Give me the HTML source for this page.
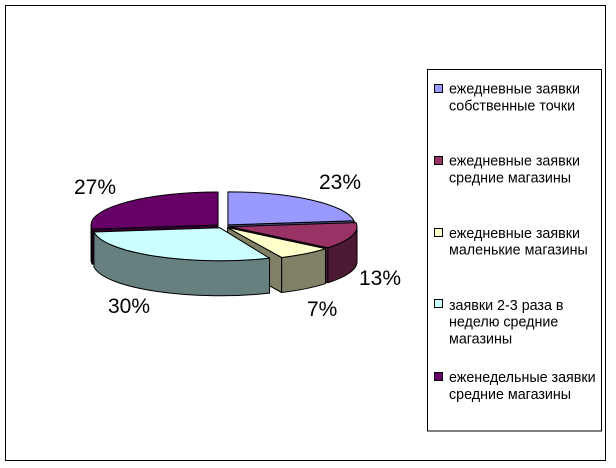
<!DOCTYPE html>
<html>
<head>
<meta charset="utf-8">
<style>
html,body{margin:0;padding:0;background:#fff;}
svg{display:block;}
text{font-family:"Liberation Sans","DejaVu Sans",sans-serif;fill:#000;}
</style>
</head>
<body>
<svg width="616" height="468" viewBox="0 0 616 468" xmlns="http://www.w3.org/2000/svg">
<rect x="0" y="0" width="616" height="468" fill="#fff"/>
<rect x="5.5" y="5.5" width="600" height="455" fill="none" stroke="#000" stroke-width="1"/>

<g stroke="#000" stroke-width="1" stroke-linejoin="round">
  <!-- Purple 27% -->
  <path d="M218.05,225 L92.05,229.14 L92.05,264.14 L218.05,260 Z" fill="#330033"/>
  <path d="M92.05,229.14 A127,33 0 0 1 91.05,225 L91.05,260 A127,33 0 0 0 92.05,264.14 Z" fill="#330033"/>
  <path d="M218.05,225 L92.05,229.14 A127,33 0 0 1 218.05,192 Z" fill="#660066"/>

  <!-- Blue 23% -->
  <path d="M227.93,224.84 L353.93,220.70 L353.93,255.70 L227.93,259.84 Z" fill="#4C4C80"/>
  <path d="M353.93,220.70 A127,33 0 0 1 354.93,224.84 L354.93,259.84 A127,33 0 0 0 353.93,255.70 Z" fill="#4C4C80"/>
  <path d="M227.93,224.84 L227.93,191.84 A127,33 0 0 1 353.93,220.70 Z" fill="#9999FF"/>

  <!-- Maroon 13% -->
  <path d="M230.02,226.71 L327.88,247.75 L327.88,282.75 L230.02,261.71 Z" fill="#4C1933"/>
  <path d="M357.02,226.71 A127,33 0 0 1 327.88,247.75 L327.88,282.75 A127,33 0 0 0 357.02,261.71 Z" fill="#4C1933"/>
  <path d="M230.02,226.71 L356.02,222.57 A127,33 0 0 1 327.88,247.75 Z" fill="#993366"/>

  <!-- Cream 7% -->
  <path d="M227.59,227.64 L281.66,257.50 L281.66,292.50 L227.59,262.64 Z" fill="#808066"/>
  <path d="M325.45,248.68 A127,33 0 0 1 281.66,257.50 L281.66,292.50 A127,33 0 0 0 325.45,283.68 Z" fill="#808066"/>
  <path d="M227.59,227.64 L325.45,248.68 A127,33 0 0 1 281.66,257.50 Z" fill="#FFFFCC"/>

  <!-- Cyan 30% -->
  <path d="M269.55,258.18 A127,33 0 0 1 93.93,231.94 L93.93,266.94 A127,33 0 0 0 269.55,293.18 Z" fill="#668080"/>
  <path d="M219.93,227.80 L269.55,258.18 A127,33 0 0 1 93.93,231.94 Z" fill="#CCFFFF"/>
</g>

<!-- Data labels -->
<g font-size="21">
  <text x="319" y="189">23%</text>
  <text x="359" y="285">13%</text>
  <text x="307" y="316">7%</text>
  <text x="108" y="313">30%</text>
  <text x="74" y="194">27%</text>
</g>

<!-- Legend -->
<rect x="427.5" y="69.5" width="174" height="361.5" fill="#fff" stroke="#000" stroke-width="1"/>
<g stroke="#000" stroke-width="1">
  <rect x="434.5" y="84.5" width="8" height="8" fill="#9999FF"/>
  <rect x="434.5" y="156.5" width="8" height="8" fill="#993366"/>
  <rect x="434.5" y="228.5" width="8" height="8" fill="#FFFFCC"/>
  <rect x="434.5" y="299.5" width="8" height="8" fill="#CCFFFF"/>
  <rect x="434.5" y="372.5" width="8" height="8" fill="#660066"/>
</g>
<g font-size="14.3">
  <text x="449" y="93.5">ежедневные заявки</text>
  <text x="449" y="110.3">собственные точки</text>

  <text x="449" y="165.5">ежедневные заявки</text>
  <text x="449" y="182.3">средние магазины</text>

  <text x="449" y="237.8">ежедневные заявки</text>
  <text x="449" y="254.6">маленькие магазины</text>

  <text x="449" y="309.8">заявки 2-3 раза в</text>
  <text x="449" y="326.6">неделю средние</text>
  <text x="449" y="343.4">магазины</text>

  <text x="449" y="382.2">еженедельные заявки</text>
  <text x="449" y="399">средние магазины</text>
</g>
</svg>
</body>
</html>
